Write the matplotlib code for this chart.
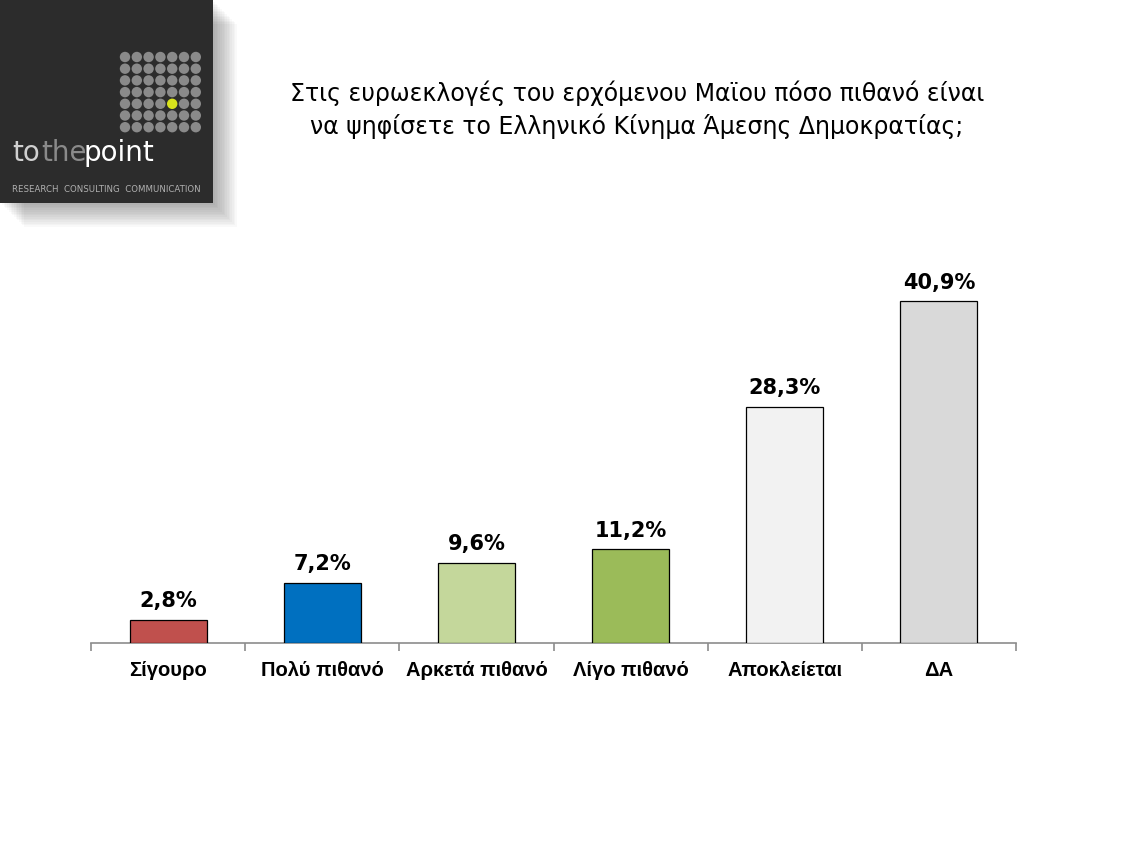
import matplotlib
matplotlib.use('Agg')
import matplotlib.pyplot as plt
from matplotlib.patches import Rectangle, Circle

# Chart data
categories = ['Σίγουρο', 'Πολύ πιθανό', 'Αρκετά πιθανό', 'Λίγο πιθανό', 'Αποκλείεται', 'ΔΑ']
values = [2.8, 7.2, 9.6, 11.2, 28.3, 40.9]
value_labels = ['2,8%', '7,2%', '9,6%', '11,2%', '28,3%', '40,9%']
bar_colors = ['#C0504D', '#0070C0', '#C4D79B', '#9BBB59', '#F2F2F2', '#D9D9D9']
title = 'Στις ευρωεκλογές του ερχόμενου Μαϊου πόσο πιθανό είναι\nνα ψηφίσετε το Ελληνικό Κίνημα Άμεσης Δημοκρατίας;'

W, H = 1140, 858
fig = plt.figure(figsize=(W / 100, H / 100), dpi=100)
fig.patch.set_facecolor('white')

# Bar chart axes (pixel positions)
ax = fig.add_axes([91 / W, (H - 643) / H, (1016 - 91) / W, 376 / H])
x = list(range(len(categories)))
ax.bar(x, values, width=0.5, color=bar_colors, edgecolor='black', linewidth=0.9, zorder=3)
for xi, v, lab in zip(x, values, value_labels):
    ax.text(xi, v + 1.0, lab, ha='center', va='bottom', fontsize=15,
            fontweight='bold', family='DejaVu Sans', color='black')
ax.set_xlim(-0.5, len(categories) - 0.5)
ax.set_ylim(0, 45)
for s in ['top', 'right', 'left']:
    ax.spines[s].set_visible(False)
ax.spines['bottom'].set_color('#8c8c8c')
ax.spines['bottom'].set_linewidth(1.2)
ax.set_yticks([])
ax.set_xticks([i - 0.5 for i in range(len(categories) + 1)])
ax.set_xticklabels([])
ax.tick_params(axis='x', length=6, color='#8c8c8c', width=1.2, direction='out')
for xi, c in zip(x, categories):
    ax.text(xi, -3.3, c, ha='center', va='center', fontsize=14.5,
            fontweight='bold', family='Liberation Sans', color='black')
ax.patch.set_alpha(0)

# Title
fig.text(637 / W, 1 - 110 / H, title, ha='center', va='center', fontsize=17,
         family='DejaVu Sans', color='black', linespacing=1.35)

# Logo block (top left) drawn in pixel coordinates
lax = fig.add_axes([0, 0, 1, 1], zorder=5)
lax.set_xlim(0, W)
lax.set_ylim(H, 0)
lax.axis('off')
for i in range(14):
    off = 2 + i * 1.7
    lax.add_patch(Rectangle((off, off), 213, 203, facecolor='black',
                            alpha=0.022, edgecolor='none'))
lax.add_patch(Rectangle((0, 0), 213, 203, facecolor='#2c2c2c', edgecolor='none'))
for r in range(7):
    for c in range(7):
        col = '#d8e21c' if (r, c) == (4, 4) else '#8a8a8a'
        lax.add_patch(Circle((125 + c * 11.8, 57 + r * 11.7), 5.2,
                             facecolor=col, edgecolor='none'))
lax.text(12, 153, 'to', fontsize=20, color='#d0d0d0', va='center', ha='left', family='DejaVu Sans')
lax.text(41, 153, 'the', fontsize=20, color='#8a8a8a', va='center', ha='left', family='DejaVu Sans')
lax.text(83, 153, 'point', fontsize=20, color='white', va='center', ha='left', family='DejaVu Sans')
lax.text(12, 190, 'RESEARCH  CONSULTING  COMMUNICATION', fontsize=6.2, color='#b0b0b0',
         va='center', ha='left', family='DejaVu Sans')

fig.savefig('out.png', dpi=100)
